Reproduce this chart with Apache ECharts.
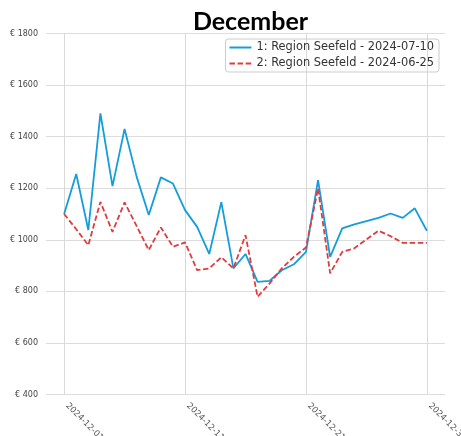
<!DOCTYPE html>
<html>
<head>
<meta charset="utf-8">
<script src="https://cdn.jsdelivr.net/npm/echarts@6/dist/echarts.min.js"></script>
<style>
html, body { margin: 0; padding: 0; background: #fff; overflow: hidden; }
#main { width: 461px; height: 436px; }
</style>
</head>
<body>
<div id="main"></div>
<script>
var myChart = echarts.init(document.getElementById('main'));

// day of month index 0 = 2024-12-01
var days = [];
for (var d = 1; d <= 31; d++) days.push('2024-12-' + (d < 10 ? '0' + d : d));

var seriesNames = ['1: Region Seefeld - 2024-07-10', '2: Region Seefeld - 2024-06-25'];
var blueValues = [1100, 1255, 1038, 1490, 1208, 1430, 1244, 1096, 1242, 1218, 1115, 1050, 945, 1146, 889,
	945, 837, 841, 882, 905, 953, 1231, 934, 1044, 1060, 1072, 1085, 1102, 1085, 1122, 1035];
var redValues = [1100, 1041, 979, 1147, 1031, 1145, 1053, 960, 1048, 973, 990, 882, 889, 932, 889,
	1018, 779, 831, 889, 934, 970, 1199, 870, 953, 967, 1001, 1035, 1014, 988, 988, 988];
var tickDays = [0, 10, 20, 30];

var pairs = function (vals) {
	var arr = [];
	for (var i = 0; i < vals.length; i++) arr.push([i, vals[i]]);
	return arr;
};

var option = {
	animation: false,
	backgroundColor: '#fff',
	title: {
		text: 'December',
		left: 245.5,
		textAlign: 'center',
		top: 4,
		textStyle: {
			fontFamily: 'Lato',
			fontWeight: 'bold',
			fontSize: 25,
			color: '#000'
		}
	},
	legend: {
		orient: 'vertical',
		right: 22,
		top: 39,
		padding: [3, 5, 3, 3],
		itemWidth: 22,
		itemHeight: 12,
		itemGap: 5,
		itemStyle: { opacity: 0 },
		borderColor: '#cccccc',
		borderWidth: 1,
		borderRadius: 3,
		textStyle: {
			fontFamily: 'DejaVu Sans',
			fontSize: 11.4,
			color: '#333'
		},
		data: seriesNames
	},
	grid: {
		left: 46,
		right: 16,
		top: 33.5,
		bottom: 41.5,
		containLabel: false,
		outerBoundsMode: 'none'
	},
	xAxis: {
		type: 'value',
		min: -1.5,
		max: 31.5,
		axisLine: { show: false },
		axisTick: { show: false, customValues: tickDays },
		splitLine: { show: true, lineStyle: { color: '#d9d9d9', width: 1 } },
		axisLabel: {
			customValues: tickDays,
			rotate: -45,
			margin: 7,
			padding: [0, 0, 0, 4],
			fontFamily: 'DejaVu Sans',
			fontSize: 8.5,
			color: '#555',
			formatter: function (v) { return days[Math.round(v)] || ''; }
		}
	},
	yAxis: {
		type: 'value',
		min: 400,
		max: 1800,
		interval: 200,
		axisLine: { show: false },
		axisTick: { show: false },
		splitLine: { lineStyle: { color: '#dddddd', width: 1 } },
		axisLabel: {
			margin: 8,
			fontFamily: 'DejaVu Sans',
			fontSize: 8,
			color: '#444',
			formatter: function (v) { return '€ ' + v; }
		}
	},
	series: [
		{
			name: seriesNames[0],
			type: 'line',
			data: pairs(blueValues),
			symbol: 'none',
			lineStyle: { color: '#149ddb', width: 1.8 },
			itemStyle: { color: '#149ddb' }
		},
		{
			name: seriesNames[1],
			type: 'line',
			data: pairs(redValues),
			symbol: 'none',
			lineStyle: { color: '#e23b3f', width: 1.8, type: [5.5, 2.6] },
			itemStyle: { color: '#e23b3f' }
		}
	]
};
myChart.setOption(option);
</script>
</body>
</html>
